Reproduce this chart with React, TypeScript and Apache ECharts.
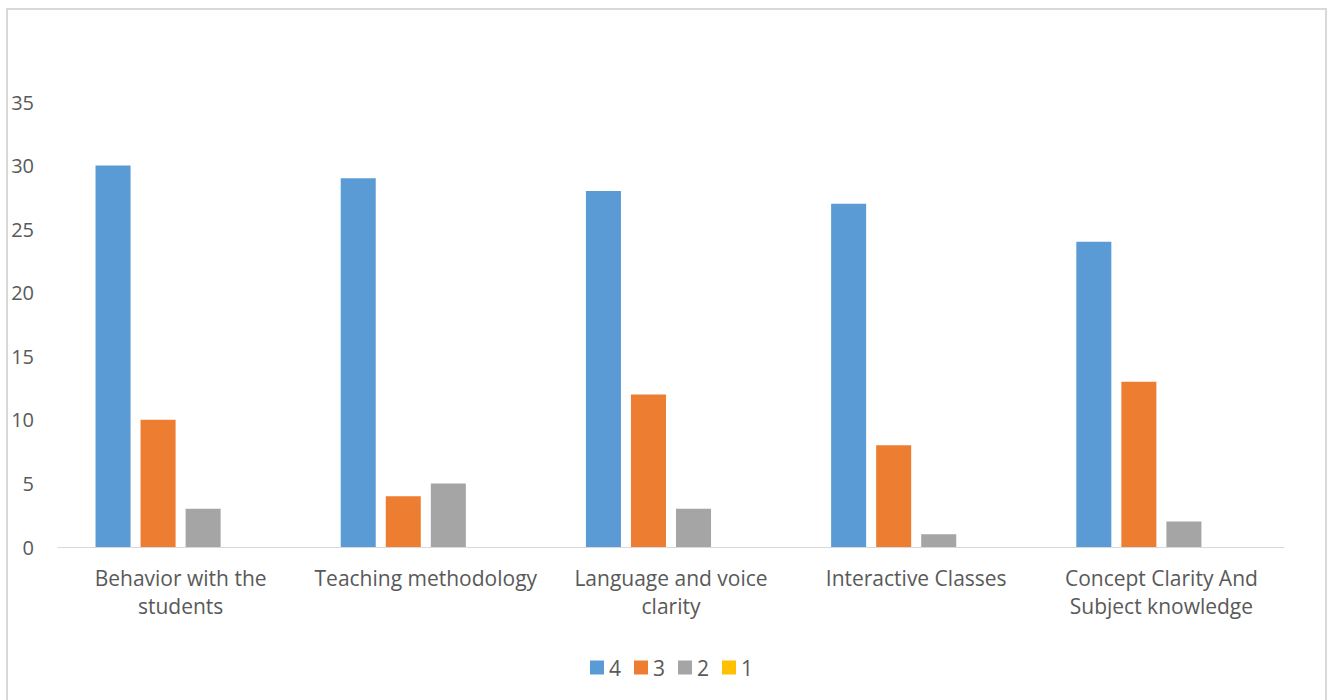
import React, { useEffect, useRef } from "react";
import * as echarts from "echarts";

const categories = [
  "Behavior with the\nstudents",
  "Teaching methodology",
  "Language and voice\nclarity",
  "Interactive Classes",
  "Concept Clarity And\nSubject knowledge",
];
const seriesNames = ["4", "3", "2", "1"];
const values4 = [30, 29, 28, 27, 24];
const values3 = [10, 4, 12, 8, 13];
const values2 = [3, 5, 3, 1, 2];
const values1 = [0, 0, 0, 0, 0];
const colors = ["#5B9BD5", "#ED7D31", "#A5A5A5", "#FFC000"];

const FONT = "'Open Sans', sans-serif";

export default function App() {
  const ref = useRef<HTMLDivElement>(null);
  useEffect(() => {
    if (!ref.current) return;
    const chart = echarts.init(ref.current, undefined, { renderer: "svg" });
    const all = [values4, values3, values2, values1];
    chart.setOption({
      animation: false,
      textStyle: { fontFamily: FONT },
      grid: { left: 50, top: 92, width: 1226, height: 445, containLabel: false },
      legend: {
        data: seriesNames,
        left: 577,
        top: 642,
        icon: "rect",
        itemWidth: 14,
        itemHeight: 14,
        itemGap: 13,
        textStyle: { color: "#595959", fontSize: 21, lineHeight: 20, fontFamily: FONT },
      },
      xAxis: {
        type: "category",
        data: categories,
        axisLine: { lineStyle: { color: "#D9D9D9", width: 1 } },
        axisTick: { show: false },
        axisLabel: {
          color: "#595959",
          fontSize: 21,
          lineHeight: 28,
          margin: 17,
          interval: 0,
          fontFamily: FONT,
        },
      },
      yAxis: {
        type: "value",
        min: 0,
        max: 35,
        interval: 5,
        axisLine: { show: false },
        axisTick: { show: false },
        splitLine: { show: false },
        axisLabel: { color: "#595959", fontSize: 20, margin: 24, fontFamily: FONT },
      },
      series: seriesNames.map((n, i) => ({
        name: n,
        type: "bar",
        data: all[i],
        barGap: "28.6%",
        barCategoryGap: "30.6%",
        itemStyle: { color: colors[i] },
      })),
    });
    return () => chart.dispose();
  }, []);
  return (
    <div
      style={{
        position: "fixed",
        left: 6,
        top: 8,
        width: 1321,
        height: 700,
        border: "2px solid #D9D9D9",
        boxSizing: "border-box",
        background: "#fff",
      }}
    >
      <div ref={ref} style={{ width: 1317, height: 696 }} />
    </div>
  );
}
